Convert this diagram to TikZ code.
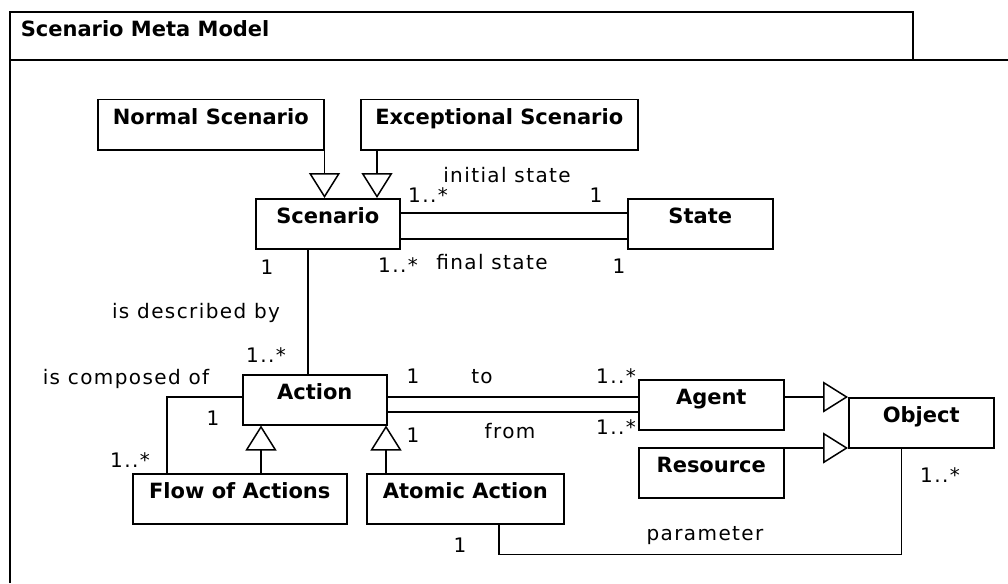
\documentclass[tikz,border=0pt]{standalone}
\usepackage{fontspec}
\setmainfont{DejaVu Sans}
\newfontfamily\lblfont[LetterSpace=7]{DejaVu Sans}
\usepackage{tikz}
\usetikzlibrary{arrows.meta,calc}

\begin{document}
\begin{tikzpicture}[x=1pt, y=-1pt, line width=1.5pt,
    cls/.style={draw, anchor=north west, minimum height=50pt, inner sep=4pt,
        text height=21pt, text depth=21pt, font=\bfseries\fontsize{21}{24}\selectfont},
    lbl/.style={inner sep=0pt, text height=15pt, text depth=0pt,
        font=\lblfont\fontsize{20}{24}\selectfont},
    gen/.style={-{Triangle[open, length=25pt, width=31pt]}}]
    \useasboundingbox (0,0) rectangle (1008,583);

    % 绘制包框
    \draw (10,583) -- (10,12) -- (913,12) -- (913,60);
    \draw (10,60) -- (1008,60);
    \node[anchor=west, inner sep=0pt, font=\bfseries\fontsize{21}{24}\selectfont] (title) at (20,29) {Scenario Meta Model};

    % 绘制类
    \node[cls, minimum width=226pt] (ns) at (97,99) {Normal Scenario};
    \node[cls, minimum width=277pt] (es) at (360,99) {Exceptional Scenario};
    \node[cls, minimum width=144pt] (sc) at (255,198) {Scenario};
    \node[cls, minimum width=145pt] (st) at (627,198) {State};
    \node[cls, minimum width=144pt] (ac) at (242,374) {Action};
    \node[cls, minimum width=214pt] (fa) at (132,473) {Flow of Actions};
    \node[cls, minimum width=197pt] (aa) at (366,473) {Atomic Action};
    \node[cls, minimum width=145pt] (ag) at (638,379) {Agent};
    \node[cls, minimum width=145pt] (re) at (638,447) {Resource};
    \node[cls, minimum width=145pt] (ob) at (848,397) {Object};

    % 绘制继承
    \draw[gen] (ns.south east) -- (ns.south east |- sc.north);
    \draw[gen] ([xshift=17pt]es.south west) -- ([xshift=17pt]es.south west |- sc.north);
    \draw[gen] ([xshift=129pt]fa.north west) -- ([xshift=129pt]fa.north west |- ac.south);
    \draw[gen] ([xshift=20pt]aa.north west) -- ([xshift=20pt]aa.north west |- ac.south);
    \draw[gen] ([yshift=-18pt]ag.north east) -- ([yshift=-18pt]ag.north east -| ob.west);
    \draw[gen] ([yshift=-1pt]re.north east) -- ([yshift=-1pt]re.north east -| ob.west);

    % 绘制关联
    \draw ([yshift=-15pt]sc.north east) -- ([yshift=-15pt]sc.north east -| st.west);
    \draw ([yshift=-41pt]sc.north east) -- ([yshift=-41pt]sc.north east -| st.west);
    \draw ([xshift=-20pt]sc.south) -- ([xshift=-20pt]sc.south |- ac.north);
    \draw ([yshift=-23pt]ac.north west) -| ([xshift=35pt]fa.north west);
    \draw ([yshift=-23pt]ac.north east) -- ([yshift=-23pt]ac.north east -| ag.west);
    \draw ([yshift=-38pt]ac.north east) -- ([yshift=-38pt]ac.north east -| ag.west);
    \draw ([xshift=133pt]aa.south west) -- ++(0,30) -| ([xshift=-20pt]ob.south);

    % 绘制标签
    \node[lbl] (initA) at (428,195) {1..*};
    \node[lbl] (initL) at (507,175) {initial state};
    \node[lbl] (initB) at (596,195) {1};
    \node[lbl] (descA) at (267,267) {1};
    \node[lbl] (finA) at (398,265) {1..*};
    \node[lbl] (finL) at (492,262) {final state};
    \node[lbl] (finB) at (619,266) {1};
    \node[lbl] (descL) at (196,311) {is described by};
    \node[lbl] (descB) at (266,355) {1..*};
    \node[lbl] (compL) at (126,377) {is composed of};
    \node[lbl] (compA) at (213,418) {1};
    \node[lbl] (compB) at (130,460) {1..*};
    \node[lbl] (toA) at (413,376) {1};
    \node[lbl] (toL) at (482,376) {to};
    \node[lbl] (toB) at (616,376) {1..*};
    \node[lbl] (fromA) at (413,435) {1};
    \node[lbl] (fromL) at (510,431) {from};
    \node[lbl] (fromB) at (616,427) {1..*};
    \node[lbl] (parB) at (940,475) {1..*};
    \node[lbl] (parL) at (705,533) {parameter};
    \node[lbl] (parA) at (460,545) {1};
\end{tikzpicture}
\end{document}
